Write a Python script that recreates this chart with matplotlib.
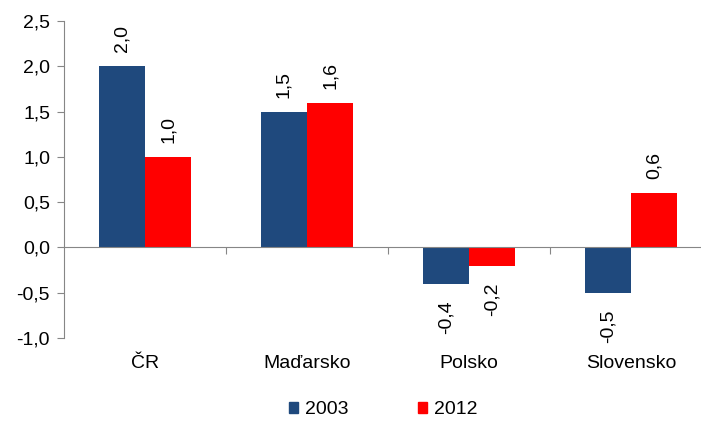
import matplotlib
matplotlib.use("Agg")
import matplotlib.pyplot as plt
from matplotlib.transforms import blended_transform_factory
from matplotlib.patches import Patch
import numpy as np

categories = ["ČR", "Maďarsko", "Polsko", "Slovensko"]
series_names = ["2003", "2012"]
values_2003 = [2.0, 1.5, -0.4, -0.5]
values_2012 = [1.0, 1.6, -0.2, 0.6]
yticks = [-1.0, -0.5, 0.0, 0.5, 1.0, 1.5, 2.0, 2.5]

colors = ["#1F497D", "#FF0000"]
plt.rcParams['font.family'] = ['Liberation Sans', 'DejaVu Sans']
FS = 14

fig = plt.figure(figsize=(7.01, 4.21), dpi=100)
W, H = 701, 421
x0, x1 = 64, 712
y_top, y_bot = 21, 338
ax = fig.add_axes([x0 / W, 1 - y_bot / H, (x1 - x0) / W, (y_bot - y_top) / H])

x = np.arange(len(categories))
bw = 0.287
for i, (vals, name, c) in enumerate(zip([values_2003, values_2012], series_names, colors)):
    pos = x - bw / 2 + i * bw
    ax.bar(pos, vals, width=bw, color=c, label=name, zorder=2)
    for p, v in zip(pos, vals):
        lab = f"{v:.1f}".replace(".", ",")
        if v >= 0:
            ax.annotate(lab, (p, v), xytext=(0, 10), textcoords="offset points",
                        rotation=90, ha="center", va="bottom", fontsize=FS)
        else:
            ax.annotate(lab, (p, v), xytext=(0, -12), textcoords="offset points",
                        rotation=90, ha="center", va="top", fontsize=FS)

ax.set_xlim(-0.5, len(categories) - 0.5)
ax.set_ylim(-1.0, 2.5)
ax.set_yticks(yticks)
ax.set_yticklabels([f"{t:.1f}".replace(".", ",") for t in yticks], fontsize=FS)

gray = "#868686"
for s in ["top", "right"]:
    ax.spines[s].set_visible(False)
ax.spines["left"].set_color(gray)
ax.spines["bottom"].set_color(gray)
ax.spines["bottom"].set_position(("data", 0))
ax.spines["left"].set_bounds(-1.0, 2.5)
ax.set_xticks(np.arange(0.5, len(categories) - 0.5, 1.0))
ax.set_xticklabels([])
ax.tick_params(axis="x", length=5, color=gray, direction="out")
ax.tick_params(axis="y", length=5, color=gray, direction="out", pad=5)

trans = blended_transform_factory(ax.transData, fig.transFigure)
for xi, cat in zip(x, categories):
    ax.text(xi, 1 - 363 / H, cat, transform=trans, ha="center", va="center", fontsize=FS)

handles = [Patch(color=c) for c in colors]
fig.legend(handles, series_names, loc="center", bbox_to_anchor=(383 / W, 1 - 410 / H),
           ncol=2, frameon=False, fontsize=FS, handlelength=0.45, handleheight=0.45,
           handletextpad=0.35, columnspacing=3.6)

fig.savefig("out.png", dpi=100)
